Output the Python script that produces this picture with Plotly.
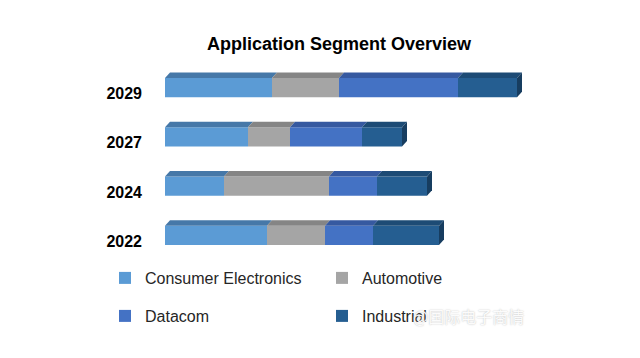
import plotly.graph_objects as go

# ---- data ----
years = ["2022", "2024", "2027", "2029"]
series_names = ["Consumer Electronics", "Automotive", "Datacom", "Industrial"]
consumer_electronics = [10.2, 5.9, 8.3, 10.7]
automotive = [5.8, 10.5, 4.2, 6.7]
datacom = [4.8, 4.8, 7.2, 11.9]
industrial = [6.6, 5.0, 4.0, 5.9]

front_colors = ["#5B9BD5", "#A5A5A5", "#4472C4", "#255E91"]
top_colors = ["#4678A8", "#858585", "#3659A0", "#1D4B75"]
side_color = "#173D60"

series = [consumer_electronics, automotive, datacom, industrial]

W, H = 640, 358
ML, MR, MT, MB = 165, 95, 63, 98
XMAX = 38.0
plot_w = W - ML - MR
plot_h = H - MT - MB
px_per_x = plot_w / XMAX
px_per_cat = plot_h / 4.0
BAR_W = 0.395
DX = 5.0 / px_per_x          # depth offset in data units (x)
DY = 5.5 / px_per_cat        # depth offset in category units (y)

legend_ids = ["legend", "legend2", "legend3", "legend4"]
# legend positions (container px): (left x, centre y)
legend_pos = [(105, 278), (322, 278), (105, 316), (322, 316)]

fig = go.Figure()
bases = [0.0] * len(years)
shapes = []
for si, (name, vals) in enumerate(zip(series_names, series)):
    fig.add_trace(go.Bar(
        y=list(range(len(years))), x=vals, base=bases[:], orientation="h",
        name=name, width=BAR_W, marker=dict(color=front_colors[si], line=dict(width=0)),
        legend=legend_ids[si], hoverinfo="x+name",
    ))
    for yi, v in enumerate(vals):
        x0 = bases[yi]
        x1 = x0 + v
        yt = yi + BAR_W / 2
        shapes.append(dict(
            type="path", xref="x", yref="y", layer="above", line=dict(width=0),
            fillcolor=top_colors[si],
            path=f"M{x0},{yt} L{x0+DX},{yt+DY} L{x1+DX},{yt+DY} L{x1},{yt} Z"))
        if si == len(series) - 1:
            yb = yi - BAR_W / 2
            shapes.append(dict(
                type="path", xref="x", yref="y", layer="above", line=dict(width=0),
                fillcolor=side_color,
                path=f"M{x1},{yb} L{x1},{yt} L{x1+DX},{yt+DY} L{x1+DX},{yb+DY} Z"))
    bases = [b + v for b, v in zip(bases, vals)]

font_main = "Liberation Sans, Arial, sans-serif"
legend_layouts = {}
for lid, (lx, ly) in zip(legend_ids, legend_pos):
    legend_layouts[lid] = dict(
        orientation="h", xref="container", yref="container",
        x=lx / W, xanchor="left", y=1 - ly / H, yanchor="middle",
        font=dict(family=font_main, size=16, color="#262626"),
        bgcolor="rgba(0,0,0,0)", itemclick=False, itemdoubleclick=False)

fig.update_layout(
    width=W, height=H,
    margin=dict(l=ML, r=MR, t=MT, b=MB, autoexpand=False),
    paper_bgcolor="white", plot_bgcolor="white",
    barmode="overlay",
    shapes=shapes,
    title=dict(text="<b>Application Segment Overview</b>", x=339 / W, xanchor="center",
               xref="container", y=1 - 44 / H, yref="container", yanchor="middle",
               font=dict(family=font_main, size=18, color="#000000")),
    xaxis=dict(range=[0, XMAX], visible=False, showgrid=False, zeroline=False),
    yaxis=dict(range=[-0.5, 3.5], tickmode="array", tickvals=list(range(len(years))),
               ticktext=[f"<b>{y}</b>" for y in years], showgrid=False, zeroline=False,
               showline=False, ticks="", ticklabelstandoff=22, ticklabelshift=6,
               tickfont=dict(family=font_main, size=16, color="#000000")),
    showlegend=True,
    annotations=[dict(text="@国际电子商情", xref="paper", yref="paper",
                      x=(468 - ML) / plot_w, y=1 - (316 - MT) / plot_h,
                      xanchor="center", yanchor="middle", showarrow=False,
                      font=dict(family="Noto Sans CJK SC", size=16,
                                color="rgba(255,255,255,0.95)",
                                shadow="0px 0px 1.5px #b0b0b0"))],
    **legend_layouts,
)

fig.write_html("out.html", config={"displayModeBar": False},
               post_script="document.body.style.margin='0px';")
